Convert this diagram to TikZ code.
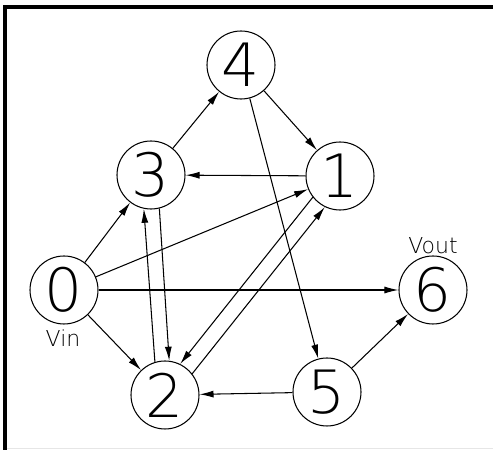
\documentclass[tikz,border=0pt]{standalone}
\usepackage{fontspec}
\newfontfamily\cadfont{DejaVu Sans ExtraLight}
\usetikzlibrary{arrows.meta}
\definecolor{cframe}{HTML}{000000}
\definecolor{cedge}{HTML}{E6E6E6}
\tikzset{
  every picture/.style={line width=0.6pt},
  vertex/.style={draw, circle, minimum size=1.36cm, inner sep=0pt, font=\cadfont\fontsize{34}{34}\selectfont},
  arrow/.style={-{Latex[length=2.8mm, width=1.4mm]}},
  port/.style={font=\cadfont\fontsize{12.5}{12.5}\selectfont},
}

\begin{document}
\begin{tikzpicture}
  \useasboundingbox (0,0) rectangle (9.86,9.0);

  % frame
  \draw[cframe, line width=0.08cm] (0.094,0) -- (0.094,8.854) -- (9.86,8.854);
  \draw[cedge, line width=0.02cm] (0.14,0.03) -- (9.86,0.03);

  % vertices
  \node[vertex] (n0) at (1.28,3.20) {0};
  \node[vertex] (n1) at (6.80,5.48) {1};
  \node[vertex] (n2) at (3.30,1.10) {2};
  \node[vertex] (n3) at (3.02,5.50) {3};
  \node[vertex] (n4) at (4.82,7.70) {4};
  \node[vertex] (n5) at (6.54,1.16) {5};
  \node[vertex] (n6) at (8.66,3.20) {6};
  \node[port] (vin) at (1.26,2.24) {Vin};
  \node[port] (vout) at (8.66,4.08) {Vout};

  % edges
  \draw[arrow] (n3) -- (n4);
  \draw[arrow] (n4) -- (n1);
  \draw[arrow] (n1) -- (n3);
  \draw[arrow] (n0) -- (n3);
  \draw[arrow] (n0) -- (n1);
  \draw[arrow] (n0) -- (n6);
  \draw[arrow] (n0) -- (n2);
  \draw[arrow] (n2.107) -- (n3.-102);
  \draw[arrow] (n3.-76) -- (n2.83);
  \draw[arrow] (n1.-142) -- (n2.64);
  \draw[arrow] (n2.38) -- (n1.-116);
  \draw[arrow] (n4) -- (n5);
  \draw[arrow] (n5) -- (n2);
  \draw[arrow] (n5) -- (n6);
\end{tikzpicture}
\end{document}
